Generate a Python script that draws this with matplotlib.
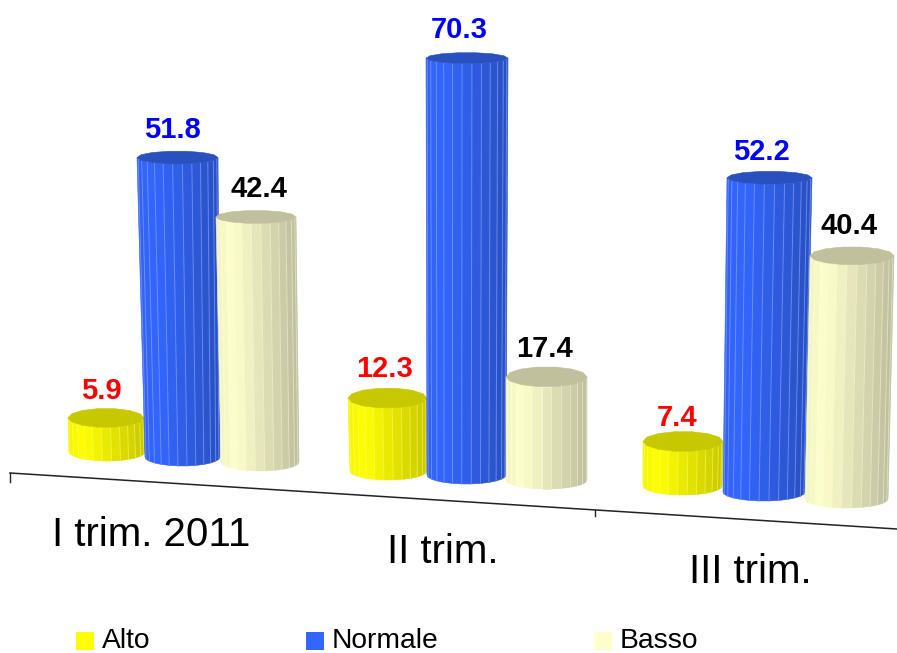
"""Cylinder chart, quarterly shares Alto / Normale / Basso. Writes out.png."""
import numpy as np
import matplotlib
matplotlib.use("Agg")
import matplotlib.pyplot as plt
from matplotlib.patches import Polygon, Rectangle

plt.rcParams["font.family"] = ["Liberation Sans", "DejaVu Sans"]

# data
quarters = ["I trim. 2011", "II trim.", "III trim."]
series = ["Alto", "Normale", "Basso"]
alto = [5.9, 12.3, 7.4]
normale = [51.8, 70.3, 52.2]
basso = [42.4, 17.4, 40.4]

# the tilted layout, in pixels: one row per quarter, one column per series
px_per_unit = [5.78, 5.93, 6.02]
base_y = [[452, 457, 462], [471, 475, 480], [486, 492, 499]]
bottom_x = [[(69, 145), (145, 220), (221, 299)],
            [(350, 427), (427, 506), (506, 587)],
            [(643, 722), (723, 805), (805, 888)]]
top_x = [[(68, 144), (137, 218), (216, 296)],
         [(348, 427), (426, 508), (506, 587)],
         [(643, 723), (727, 812), (810, 894)]]
cap_ry = [[9.5, 6.5, 6.5], [10, 5.5, 10], [10, 6.5, 9]]
label_xy = [[(101, 391), (172, 130), (259, 189)],
            [(384, 369), (459, 30), (545, 349)],
            [(677, 418), (761, 152), (849, 226)]]
quarter_xy = [(151, 535), (443, 552), (750, 572)]
legend_x = [76, 306, 594]

light = ["#FFFF00", "#3366FF", "#FFFFCC"]
dark = ["#C8C800", "#2850C0", "#BDBD9D"]
cap = ["#C8C800", "#2850BE", "#C0C09C"]
seam = ["#FFFF66", "#7E9CFF", "#FFFFE6"]
seam_alpha = [0.55, 0.7, 0.45]
label_col = ["#FF0000", "#0000FF", "#000000"]


def shade(c1, c2, t):
    a = np.array(matplotlib.colors.to_rgb(c1))
    b = np.array(matplotlib.colors.to_rgb(c2))
    return tuple(a + (b - a) * t)


def cylinder(ax, s, top, bottom, y_top, y_base, ry):
    n = 13
    angles = np.linspace(np.pi, 0, n + 1)
    tc, tr = (top[0] + top[1]) / 2, (top[1] - top[0]) / 2
    bc, br = (bottom[0] + bottom[1]) / 2, (bottom[1] - bottom[0]) / 2
    for i in range(n):
        a0, a1 = angles[i], angles[i + 1]
        x_mid = (1 + np.cos((a0 + a1) / 2)) / 2
        # brightest a fifth of the way in, darker to the right
        t = (0.2 - x_mid) / 0.2 * 0.2 if x_mid < 0.2 else (x_mid - 0.2) / 0.8
        pts = [(tc + tr * np.cos(a0), y_top + ry * np.sin(a0)),
               (tc + tr * np.cos(a1), y_top + ry * np.sin(a1)),
               (bc + br * np.cos(a1), y_base + 9 * np.sin(a1)),
               (bc + br * np.cos(a0), y_base + 9 * np.sin(a0))]
        col = shade(light[s], dark[s], t)
        ax.add_patch(Polygon(pts, closed=True, fc=col, ec=col, lw=0.4, zorder=3 + s))
        if i > 0:
            ax.plot([pts[0][0], pts[3][0]], [pts[0][1], pts[3][1]], color=seam[s],
                    lw=0.7, alpha=seam_alpha[s], zorder=3 + s)
    a = np.linspace(0, 2 * np.pi, 15)
    lid = np.column_stack([tc + tr * np.cos(a), y_top + ry * np.sin(a)])
    ax.add_patch(Polygon(lid, closed=True, fc=cap[s], ec=cap[s], lw=0.4, zorder=3 + s))


fig = plt.figure(figsize=(8.97, 6.53), dpi=100)
ax = fig.add_axes([0, 0, 1, 1])
ax.set_xlim(0, 897)
ax.set_ylim(653, 0)
ax.axis("off")

# sloping category axis
ax.plot([10, 897], [473, 529], color="#222222", lw=1.1, zorder=2)
ax.plot([10, 10], [473, 482], color="#222222", lw=1.0, zorder=2)
ax.plot([595, 595], [510, 516], color="#222222", lw=1.0, zorder=2)

for q in range(3):
    vals = [alto[q], normale[q], basso[q]]
    for s, v in enumerate(vals):
        y_base = base_y[q][s]
        y_top = y_base - v * px_per_unit[q]
        cylinder(ax, s, top_x[q][s], bottom_x[q][s], y_top, y_base, cap_ry[q][s])
        lx, ly = label_xy[q][s]
        ax.text(lx, ly, f"{v:.1f}", color=label_col[s], fontsize=21, fontweight="bold",
                ha="center", va="center", zorder=10)
    ax.text(quarter_xy[q][0], quarter_xy[q][1], quarters[q], fontsize=29,
            ha="center", va="center", color="black")

for s, name in enumerate(series):
    ax.add_patch(Rectangle((legend_x[s], 632), 18, 18, fc=light[s], ec="none"))
    ax.text(legend_x[s] + 26, 641, name, fontsize=20.3, ha="left", va="center", color="black")

fig.savefig("out.png", dpi=100)
